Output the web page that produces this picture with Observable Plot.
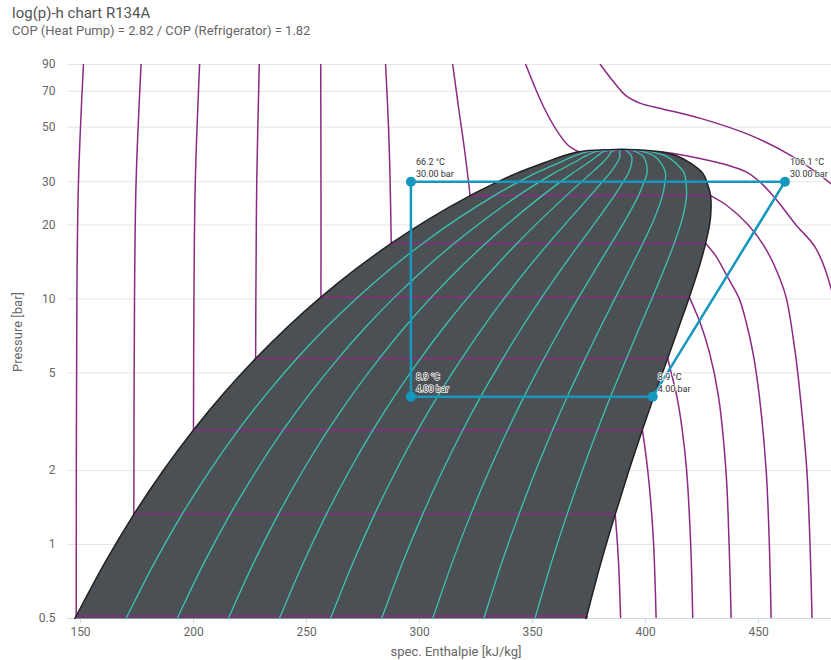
<!DOCTYPE html>
<html><head><meta charset="utf-8">
<script src="https://cdn.jsdelivr.net/npm/d3@7"></script>
<script src="https://cdn.jsdelivr.net/npm/@observablehq/plot@0.6"></script>
<style>
body{margin:0;background:#fff;font-family:Roboto,sans-serif;}
#wrap{position:relative;width:831px;height:660px;overflow:hidden;}
#title{position:absolute;left:12px;top:4px;font-size:15px;color:#555;white-space:nowrap;}
#subtitle{position:absolute;left:12px;top:23px;font-size:13px;color:#666;white-space:nowrap;}
#chart{position:absolute;left:0;top:44px;}
</style></head><body>
<div id="wrap">
<div id="title">log(p)-h chart R134A</div>
<div id="subtitle">COP (Heat Pump) = 2.82 / COP (Refrigerator) = 1.82</div>
<div id="chart"></div>
</div>
<script>
// ---- axis ticks ----
const xTicks = [150, 200, 250, 300, 350, 400, 450];
const yTicks = [0.5, 1, 2, 5, 10, 20, 30, 50, 70, 90];

// ---- saturation table (pressure bar, sat. liquid h, sat. vapour h) ----
const satP  = [0.5, 0.512, 0.844, 1.327, 2.006, 2.928, 4.146, 5.717, 7.702, 10.166, 13.179, 16.818, 21.168, 26.332, 29.26, 32.442, 35.9, 38.2, 39.72, 40.5, 40.59];
const satHf = [147.5, 148.1, 160.8, 173.6, 186.7, 200.0, 213.6, 227.5, 241.7, 256.4, 271.6, 287.5, 304.3, 322.4, 332.3, 342.9, 355.5, 363.5, 370.5, 383.0, 389.6];
const satHg = [373.7, 374.0, 380.3, 386.6, 392.7, 398.6, 404.3, 409.8, 414.8, 419.4, 423.4, 426.6, 428.7, 428.8, 427.5, 425.4, 419.5, 414.0, 406.5, 396.0, 389.6];

// ---- vapour quality lines ----
const qualities = [0.1, 0.2, 0.3, 0.4, 0.5, 0.6, 0.7, 0.8, 0.9];

// ---- isotherms [pressure bar, enthalpy kJ/kg] ----
const isoM40 = [[90,151.3],[30,149.1],[10,148.4],[0.512,148.1],[0.512,374.0],[0.5,374.2]];
const isoM20 = [[90,176.8],[30,174.6],[10,173.9],[1.327,173.6],[1.327,386.6],[1,387.6],[0.8,388.2],[0.5,389.0]];
const iso0   = [[90,202.7],[30,200.8],[10,200.2],[2.928,200.0],[2.928,398.6],[2.5,399.7],[2,401.0],[1.5,402.3],[1,403.6],[0.5,404.7]];
const iso20  = [[90,229.1],[30,228.0],[10,227.6],[5.717,227.5],[5.717,409.8],[5,411.4],[4,413.9],[3,416.1],[2,418.2],[1,420.0],[0.5,420.9]];
const iso40  = [[90,256.3],[30,256.4],[10.166,256.4],[10.166,419.4],[9,421.9],[8,424.2],[6,428.4],[4,432.3],[2,435.6],[1,437.0],[0.5,437.9]];
const iso60  = [[90,285.0],[50,286.3],[30,287.0],[16.818,287.5],[16.818,426.6],[15,431.0],[12,436.9],[10,441.5],[8,444.6],[6,447.6],[4,450.4],[2,453.4],[1,454.8],[0.5,455.6]];
const iso80  = [[90,314.7],[60,317.3],[40,320.0],[26.332,322.4],[26.332,428.8],[24,436.0],[20,445.5],[16,453.2],[12,459.6],[10,462.4],[6,466.3],[4,468.5],[2,471.4],[1,472.8],[0.5,473.7]];
const iso100 = [[90,347.0],[60.3,355.0],[47.3,361.5],[42,366.0],[39.72,370.5],[39.72,406.5],[39,413],[37.5,423],[35,436.5],[32.9,444.5],[30,450.5],[26,456.9],[23,461.5],[20,466.6],[16,475.5],[10,483.3],[5,488],[0.5,493]];
const iso120 = [[90,380.0],[77.5,385.4],[67.4,391.2],[62.5,397.8],[59.6,406.7],[54.3,424.4],[46.3,446.5],[38.4,464.2],[29.5,481.9],[25,490]];
const isoTemps = [-40, -20, 0, 20, 40, 60, 80, 100, 120];
const isoLines = [isoM40, isoM20, iso0, iso20, iso40, iso60, iso80, iso100, iso120];

// ---- refrigeration cycle ----
const cycleH = [403.2, 461.7, 296.2, 296.2, 403.2];
const cycleP = [4, 30, 30, 4, 4];
const pointH = [296.2, 461.7, 296.2, 403.2];
const pointP = [30, 30, 4, 4];
const pointLabel = ["66.2 °C\n30.00 bar", "106.1 °C\n30.00 bar", "8.9 °C\n4.00 bar", "8.9 °C\n4.00 bar"];

// ---- derived tables ----
const dome = [
  ...satP.map((p, i) => ({h: satHf[i], p})),
  ...satP.map((p, i) => ({h: satHg[i], p})).reverse()
];
const qualityRows = qualities.flatMap(q => satP.map((p, i) => ({q, p, h: satHf[i] + q * (satHg[i] - satHf[i])})));
// split each isotherm into liquid / two-phase / vapour pieces so each can be smoothed
const isoRows = isoLines.flatMap((pts, k) => {
  let part = 0;
  const rows = [];
  pts.forEach(([p, h], i) => {
    if (i > 0 && pts[i - 1][0] === p) {
      rows.push({t: `${isoTemps[k]}-${part}`, p: pts[i - 1][0], h: pts[i - 1][1]});
      part++;
      rows.push({t: `${isoTemps[k]}-${part}`, p: pts[i - 1][0], h: pts[i - 1][1]});
      rows.push({t: `${isoTemps[k]}-${part}`, p, h});
      part++;
      rows.push({t: `${isoTemps[k]}-${part}`, p, h});
      return;
    }
    rows.push({t: `${isoTemps[k]}-${part}`, p, h});
  });
  return rows;
});
const cycle = cycleH.map((h, i) => ({h, p: cycleP[i]}));
const points = pointH.map((h, i) => ({h, p: pointP[i], label: pointLabel[i]}));
const yTickRows = yTicks.map(v => ({v, s: String(v)}));

const purple = "#8c2a84";
const teal = "#3cc3b2";
const blue = "#1697be";

const chart = Plot.plot({
  width: 831,
  height: 616,
  marginLeft: 67,
  marginRight: 0,
  marginTop: 20,
  marginBottom: 42,
  style: {fontFamily: "Roboto, sans-serif", fontSize: "12px", color: "#666", background: "#fff", overflow: "visible"},
  x: {domain: [144.25, 482.3]},
  y: {type: "log", domain: [0.5, 90], axis: null},
  marks: [
    Plot.ruleY(yTickRows, {y: "v", stroke: "#e6e6e6", strokeWidth: 1}),
    Plot.text(yTickRows, {y: "v", text: "s", frameAnchor: "left", textAnchor: "end", dx: -12, fill: "#666", fontSize: 12}),
    Plot.axisX(xTicks, {tickSize: 5, tickPadding: 4, stroke: "#ccd6eb", tickFormat: d => String(d), label: null, fill: "#666"}),
    Plot.ruleY([0.5], {stroke: "#ccd6eb"}),
    Plot.line(dome, {x: "h", y: "p", fill: "#4b5055", stroke: "none", curve: "catmull-rom"}),
    Plot.line(isoRows, {x: "h", y: "p", z: "t", stroke: purple, strokeWidth: 1.5, curve: "catmull-rom", clip: true}),
    Plot.line(qualityRows, {x: "h", y: "p", z: "q", stroke: teal, strokeWidth: 1.3, curve: "catmull-rom"}),
    Plot.line(dome, {x: "h", y: "p", stroke: "#222", strokeWidth: 1.5, curve: "catmull-rom"}),
    Plot.line(cycle, {x: "h", y: "p", stroke: blue, strokeWidth: 2.5}),
    Plot.dot(points, {x: "h", y: "p", r: 5, fill: blue}),
    Plot.text(points, {x: "h", y: "p", text: "label", textAnchor: "start", lineAnchor: "bottom", dx: 5, dy: -5, fontSize: 9, fill: "#333", stroke: "white", strokeWidth: 1.5, lineHeight: 1.3})
  ]
});

const svg = d3.select(chart);
svg.append("text").attr("transform", "translate(22,288) rotate(-90)").attr("text-anchor", "middle")
  .attr("fill", "#666").style("font-size", "13px").text("Pressure [bar]");
svg.append("text").attr("x", 456).attr("y", 612).attr("text-anchor", "middle")
  .attr("fill", "#666").style("font-size", "13px").text("spec. Enthalpie [kJ/kg]");

document.getElementById("chart").appendChild(chart);
</script>
</body></html>
